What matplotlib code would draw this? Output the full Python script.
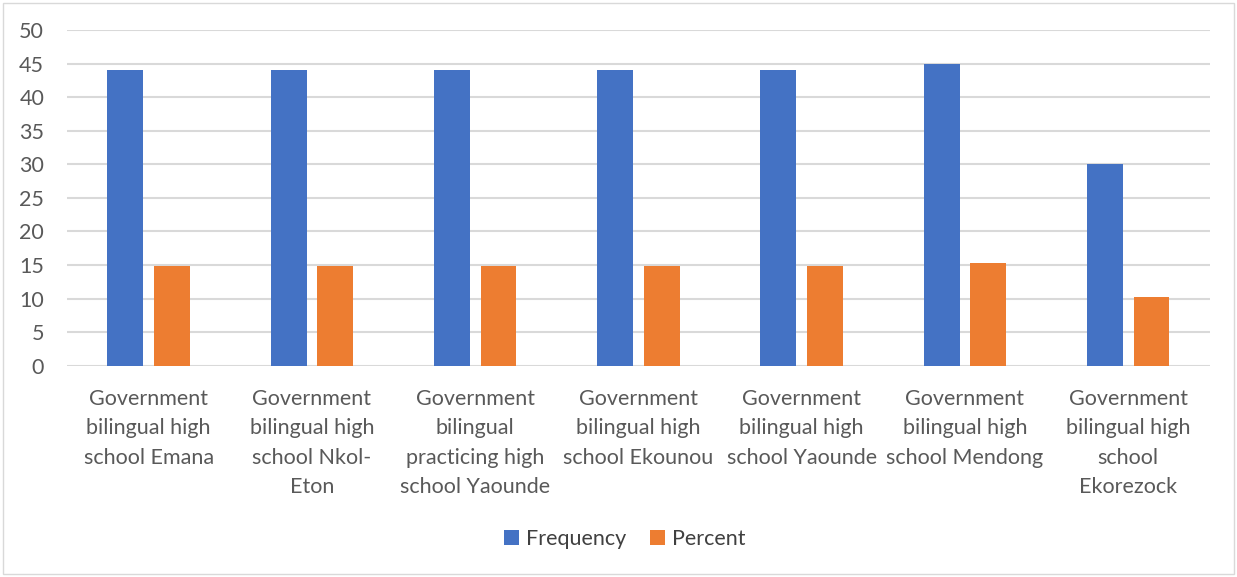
import matplotlib
matplotlib.use("Agg")
import matplotlib.pyplot as plt
import numpy as np
from matplotlib.patches import Rectangle

categories = [
    "Government\nbilingual high\nschool Emana",
    "Government\nbilingual high\nschool Nkol-\nEton",
    "Government\nbilingual\npracticing high\nschool Yaounde",
    "Government\nbilingual high\nschool Ekounou",
    "Government\nbilingual high\nschool Yaounde",
    "Government\nbilingual high\nschool Mendong",
    "Government\nbilingual high\nschool\nEkorezock",
]
frequency = [44, 44, 44, 44, 44, 45, 30]
percent = [14.9, 14.9, 14.9, 14.9, 14.9, 15.3, 10.2]
yticks = [0, 5, 10, 15, 20, 25, 30, 35, 40, 45, 50]

plt.rcParams['font.family'] = ['Lato', 'DejaVu Sans']

fig = plt.figure(figsize=(12.37, 5.77), dpi=100)
ax = fig.add_axes([0.0542, 0.366, 0.978 - 0.0542, 0.948 - 0.366])

x = np.arange(len(categories))
w = 0.22
off = 0.143
ax.bar(x - off, frequency, w, color="#4472C4", label="Frequency", zorder=3)
ax.bar(x + off, percent, w, color="#ED7D31", label="Percent", zorder=3)

ax.set_xlim(-0.5, len(categories) - 0.5)
ax.set_ylim(0, 50)
ax.set_yticks(yticks)
ax.yaxis.grid(True, color="#D9D9D9", linewidth=1.5, zorder=0)
ax.set_axisbelow(True)
for s in ax.spines.values():
    s.set_visible(False)
ax.tick_params(axis='both', length=0, labelsize=15.5, colors="#595959")
ax.tick_params(axis='y', pad=16.5)
ax.tick_params(axis='x', pad=16.5)
ax.set_xticks(x)
ax.set_xticklabels(categories, linespacing=1.59, va='top', ha='center')
for lab in ax.get_yticklabels():
    lab.set_horizontalalignment('right')

leg = fig.legend(loc='center', bbox_to_anchor=(625 / 1237, 1 - 539 / 577), ncol=2,
                 frameon=False, fontsize=15.5, handlelength=0.68, handleheight=0.68,
                 columnspacing=1.1, handletextpad=0.35)
for t in leg.get_texts():
    t.set_color("#404040")

fig.patches.append(Rectangle((3 / 1237, 3 / 577), 1 - 6 / 1237, 1 - 6 / 577,
                             transform=fig.transFigure, fill=False,
                             edgecolor="#D9D9D9", linewidth=1))

fig.savefig("out.png", dpi=100)
